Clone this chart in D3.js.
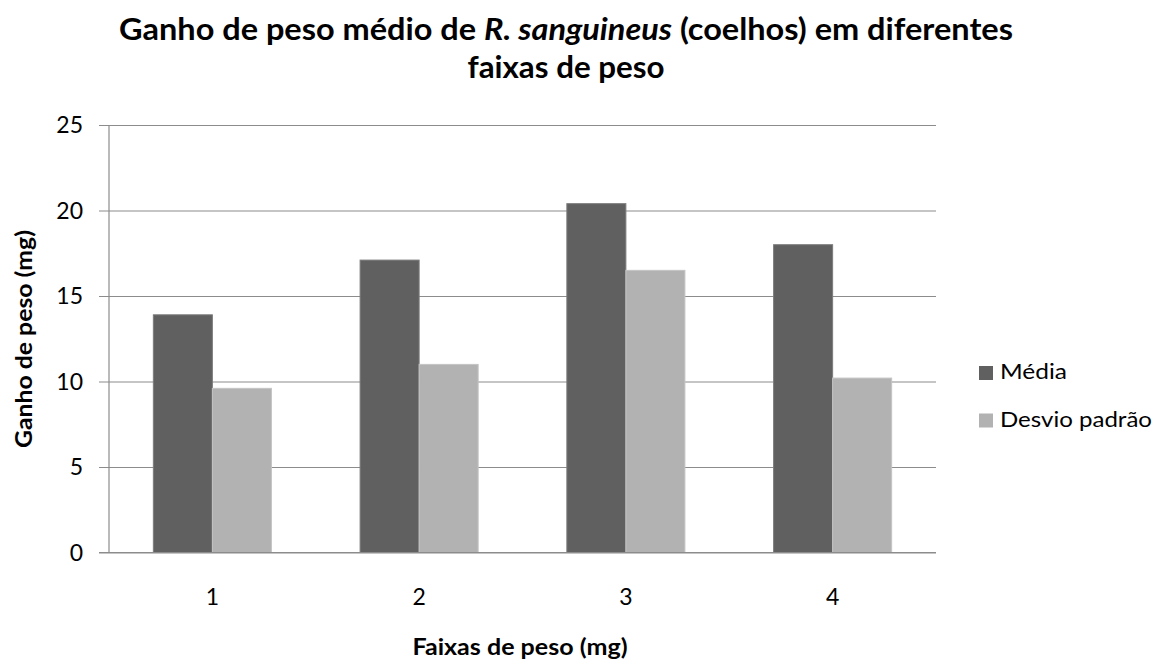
<!DOCTYPE html>
<html><head><meta charset="utf-8">
<script src="https://cdn.jsdelivr.net/npm/d3@7"></script>
<style>
body{margin:0;background:#fff}
svg text{font-family:Lato,"Open Sans",sans-serif;fill:#000}
</style>
</head><body><svg id="c" width="1155" height="660"></svg>
<script>
const categories = ["1", "2", "3", "4"];
const seriesNames = ["Média", "Desvio padrão"];
const media = [13.9, 17.1, 20.4, 18.0];
const desvio = [9.6, 11.0, 16.5, 10.2];
const yTicks = [0, 5, 10, 15, 20, 25];
const colors = ["#606060", "#b2b2b2"];
const titleLine1 = ["Ganho de peso médio de ", "R. sanguineus", " (coelhos) em diferentes"];
const titleLine2 = "faixas de peso";
const yTitle = "Ganho de peso (mg)";
const xTitle = "Faixas de peso (mg)";

const svg = d3.select("#c");
const L = 109, R = 936, T = 125, B = 552.5;
const x0 = d3.scaleBand().domain(categories).range([L, R]).padding(0);
const bw = x0.bandwidth();
const x1 = d3.scaleBand().domain(seriesNames).range([bw * 0.2145, bw * 0.7855]).padding(0);
const y = d3.scaleLinear().domain([0, 25]).range([B, T]);

function fitLen(sel, target) {
  sel.attr("textLength", target).attr("lengthAdjust", "spacingAndGlyphs");
}

// gridlines + y axis
const yAxis = d3.axisLeft(y).tickValues(yTicks).tickSize(R - L + 10).tickPadding(0).tickFormat(d3.format("d"));
const gy = svg.append("g").attr("transform", `translate(${R},0)`).call(yAxis);
gy.select(".domain").remove();
gy.selectAll(".tick line").attr("stroke", "#8c8c8c").attr("stroke-width", 1.2);
gy.selectAll(".tick text").remove();
svg.append("g").selectAll("text").data(yTicks).join("text")
  .attr("x", 83).attr("y", d => y(d)).attr("dy", "0.36em")
  .attr("text-anchor", "end").style("font-size", "23px").text(d => d);

// bars
const data = categories.map((c, i) => ({c, vals: [media[i], desvio[i]]}));
svg.append("g").selectAll("g").data(data).join("g")
  .attr("transform", d => `translate(${x0(d.c)},0)`)
  .selectAll("rect").data(d => d.vals.map((v, j) => ({s: seriesNames[j], v, j}))).join("rect")
  .attr("x", d => x1(d.s)).attr("width", x1.bandwidth())
  .attr("y", d => y(d.v)).attr("height", d => y(0) - y(d.v))
  .attr("fill", d => colors[d.j])
  .attr("stroke", d => d.j === 0 ? "#7c7c7c" : "#c4c4c4").attr("stroke-width", 1);

// axis lines
svg.append("line").attr("x1", L).attr("x2", L).attr("y1", T).attr("y2", B).attr("stroke", "#8c8c8c").attr("stroke-width", 1.2);
const xAxis = d3.axisBottom(x0).tickSize(0).tickPadding(0);
const gx = svg.append("g").attr("transform", `translate(0,${B})`).call(xAxis);
gx.select(".domain").attr("stroke", "#8c8c8c").attr("stroke-width", 1.2).attr("d", `M${L - 10},0H${R}`);
gx.selectAll(".tick text").attr("y", 52).attr("dy", null).style("font-size", "23px")
  .style("font-family", "Lato,'Open Sans',sans-serif").attr("fill", "#000");

// title
const t1 = svg.append("text").attr("x", 566).attr("y", 40).attr("text-anchor", "middle")
  .style("font-weight", "bold").style("font-size", "30px");
t1.selectAll("tspan").data(titleLine1).join("tspan")
  .style("font-style", (d, i) => i === 1 ? "italic" : "normal").text(d => d);
fitLen(t1, 894);
const t2 = svg.append("text").attr("x", 566).attr("y", 78).attr("text-anchor", "middle")
  .style("font-weight", "bold").style("font-size", "30px").text(titleLine2);
fitLen(t2, 197);

// axis titles
const yt = svg.append("text").attr("transform", `translate(32,339) rotate(-90)`)
  .attr("text-anchor", "middle").style("font-weight", "bold").style("font-size", "22px").text(yTitle);
fitLen(yt, 218);
const xt = svg.append("text").attr("x", 520).attr("y", 655)
  .attr("text-anchor", "middle").style("font-weight", "bold").style("font-size", "22px").text(xTitle);
fitLen(xt, 215);

// legend
const legendWidths = [67, 152];
const lg = svg.append("g").selectAll("g").data(seriesNames).join("g")
  .attr("transform", (d, i) => `translate(979,${373 + i * 47.5})`);
lg.append("rect").attr("x", 0).attr("y", -7).attr("width", 14).attr("height", 14).attr("fill", (d, i) => colors[i]);
lg.append("text").attr("x", 21).attr("y", 6).style("font-size", "22px").text(d => d)
  .attr("textLength", (d, i) => legendWidths[i]).attr("lengthAdjust", "spacingAndGlyphs");
</script>
</body></html>
